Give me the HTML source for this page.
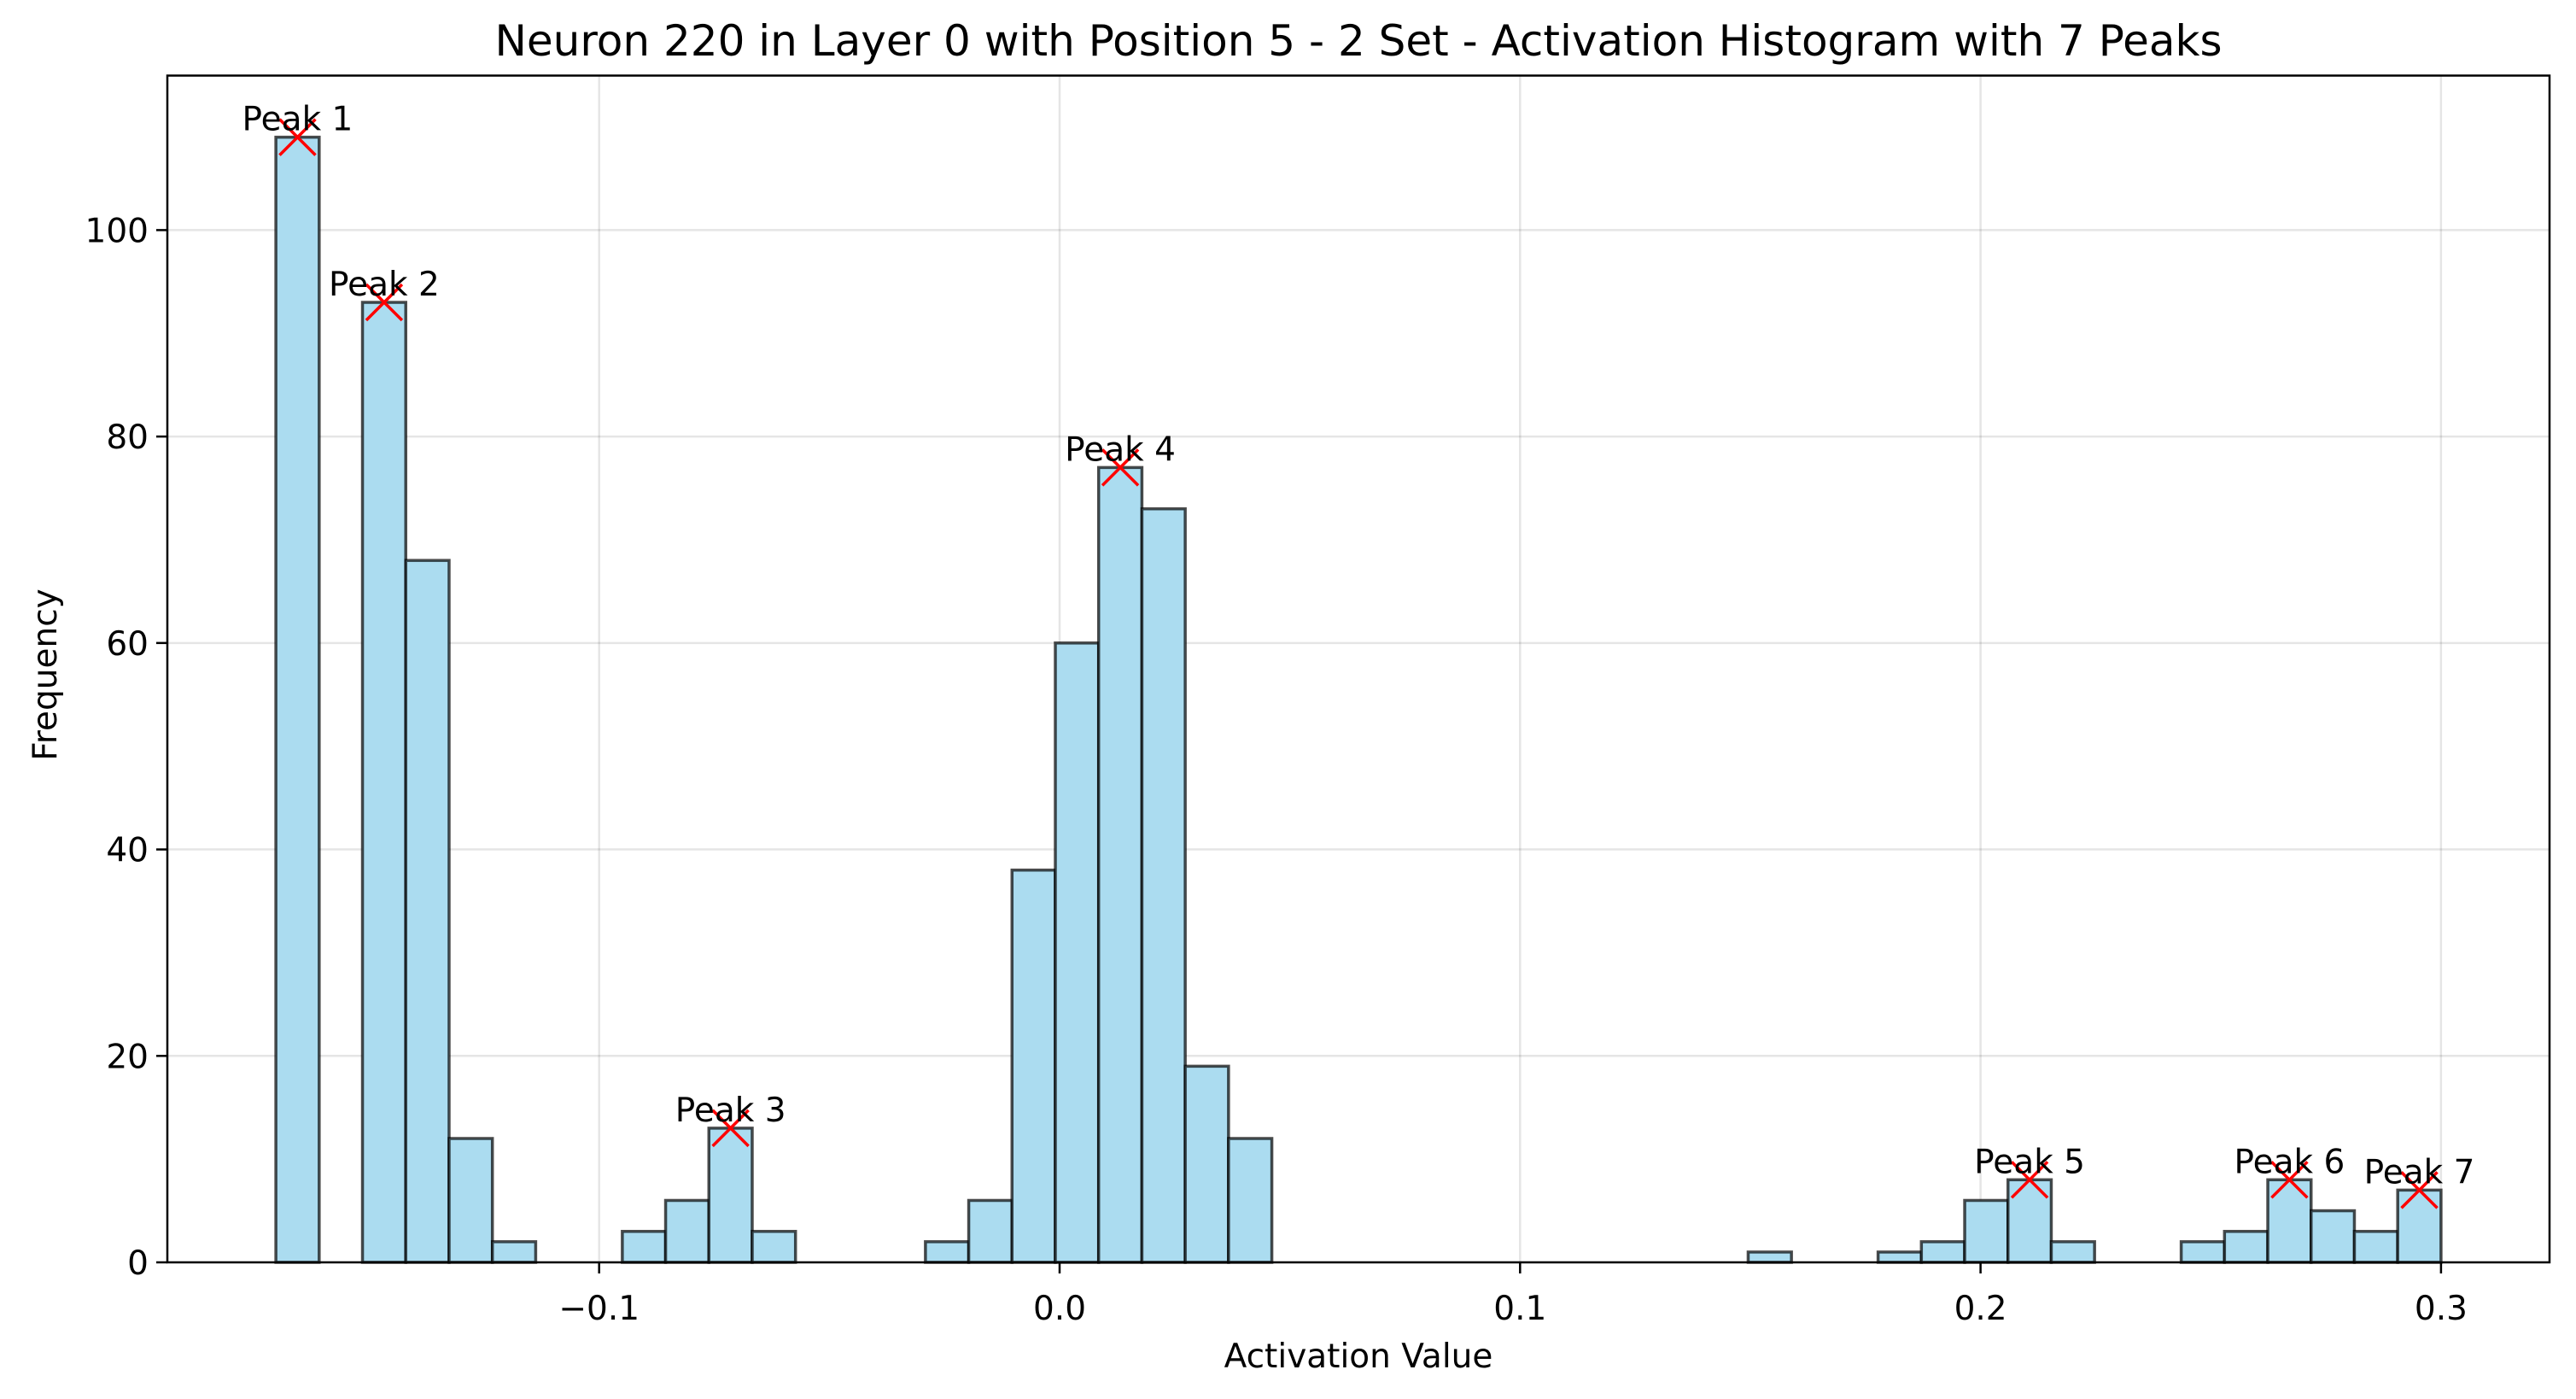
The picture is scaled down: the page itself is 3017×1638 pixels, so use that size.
<!DOCTYPE html>
<html><head><meta charset="utf-8"><style>
body{margin:0;background:#fff;}
svg{display:block;font-family:"DejaVu Sans","Liberation Sans",sans-serif;}
</style></head><body>
<svg id="chart" width="3017" height="1638" viewBox="0 0 3017 1638" xmlns="http://www.w3.org/2000/svg">
<rect width="3017" height="1638" fill="#fff"/>
<text x="1591" y="65" font-size="50" text-anchor="middle">Neuron 220 in Layer 0 with Position 5 - 2 Set - Activation Histogram with 7 Peaks</text>
<g id="grid"></g>
<g id="bars"></g>
<g id="peaks"></g>
<rect x="196" y="88.5" width="2790" height="1389.5" fill="none" stroke="#000" stroke-width="2.5"/>
<g id="axes"></g>
<text x="1591" y="1601" font-size="39" text-anchor="middle">Activation Value</text>
<text transform="translate(66,790) rotate(-90)" font-size="39" text-anchor="middle">Frequency</text>
</svg>
<script>
const binStart = -0.1702;
const binWidth = 0.009404;
const counts = [109,0,93,68,12,2,0,0,3,6,13,3,0,0,0,2,6,38,60,77,73,19,12,0,0,0,0,0,0,0,0,0,0,0,1,0,0,1,2,6,8,2,0,0,2,3,8,5,3,7];
const peakBins = [0,2,10,19,40,46,49];
const peakLabels = ["Peak 1","Peak 2","Peak 3","Peak 4","Peak 5","Peak 6","Peak 7"];
const xTicks = [-0.1,0.0,0.1,0.2,0.3];
const xTickLabels = ["\u22120.1","0.0","0.1","0.2","0.3"];
const yTicks = [0,20,40,60,80,100];
const yTickLabels = ["0","20","40","60","80","100"];

const NS="http://www.w3.org/2000/svg";
const L=196,R=2986,T=88.5,B=1478;
const X=v=>1241+(v)*5393;
const Y=v=>1478-v*12.086;
function mk(tag,attrs,parent){const e=document.createElementNS(NS,tag);for(const k in attrs)e.setAttribute(k,attrs[k]);parent.appendChild(e);return e;}
const grid=document.getElementById('grid'),bars=document.getElementById('bars'),peaks=document.getElementById('peaks'),axes=document.getElementById('axes');
xTicks.forEach((t,i)=>{
  const g=mk('line',{x1:X(t),x2:X(t),y1:T,y2:B,stroke:'#000','stroke-opacity':0.1,'stroke-width':2.5},grid);
  
  
  const tk=mk('line',{x1:X(t),x2:X(t),y1:B,y2:B+13,stroke:'#000','stroke-width':2.5},axes);
  
  
  const tx=mk('text',{x:X(t),y:B+67,'font-size':39,'text-anchor':'middle'},axes);
  tx.textContent=xTickLabels[i];
  
  
});
yTicks.forEach((t,i)=>{
  const g=mk('line',{x1:L,x2:R,y1:Y(t),y2:Y(t),stroke:'#000','stroke-opacity':0.1,'stroke-width':2.5},grid);
  
  
  const tk=mk('line',{x1:L-13,x2:L,y1:Y(t),y2:Y(t),stroke:'#000','stroke-width':2.5},axes);
  
  
  const tx=mk('text',{x:L-22,y:Y(t)+14,'font-size':39,'text-anchor':'end'},axes);
  tx.textContent=yTickLabels[i];
  
  
});
counts.forEach((c,i)=>{
  if(c<=0)return;
  const x0=X(binStart+i*binWidth),x1=X(binStart+(i+1)*binWidth);
  const r=mk('rect',{x:x0,y:Y(c),width:x1-x0,height:Y(0)-Y(c),fill:'#abdcf0',stroke:'#000','stroke-opacity':0.7,'stroke-width':3.5},bars);
  
  
});
peakBins.forEach((b,i)=>{
  const cx=X(binStart+(b+0.5)*binWidth),cy=Y(counts[b]),h=21;
  const m=mk('path',{d:`M${cx-h},${cy-h}L${cx+h},${cy+h}M${cx-h},${cy+h}L${cx+h},${cy-h}`,stroke:'#ff0000','stroke-width':3.5,fill:'none'},peaks);
  
  
  const t=mk('text',{x:cx,y:cy-8,'font-size':39,'text-anchor':'middle'},peaks);
  t.textContent=peakLabels[i];
  
  
});
</script>
</body></html>
